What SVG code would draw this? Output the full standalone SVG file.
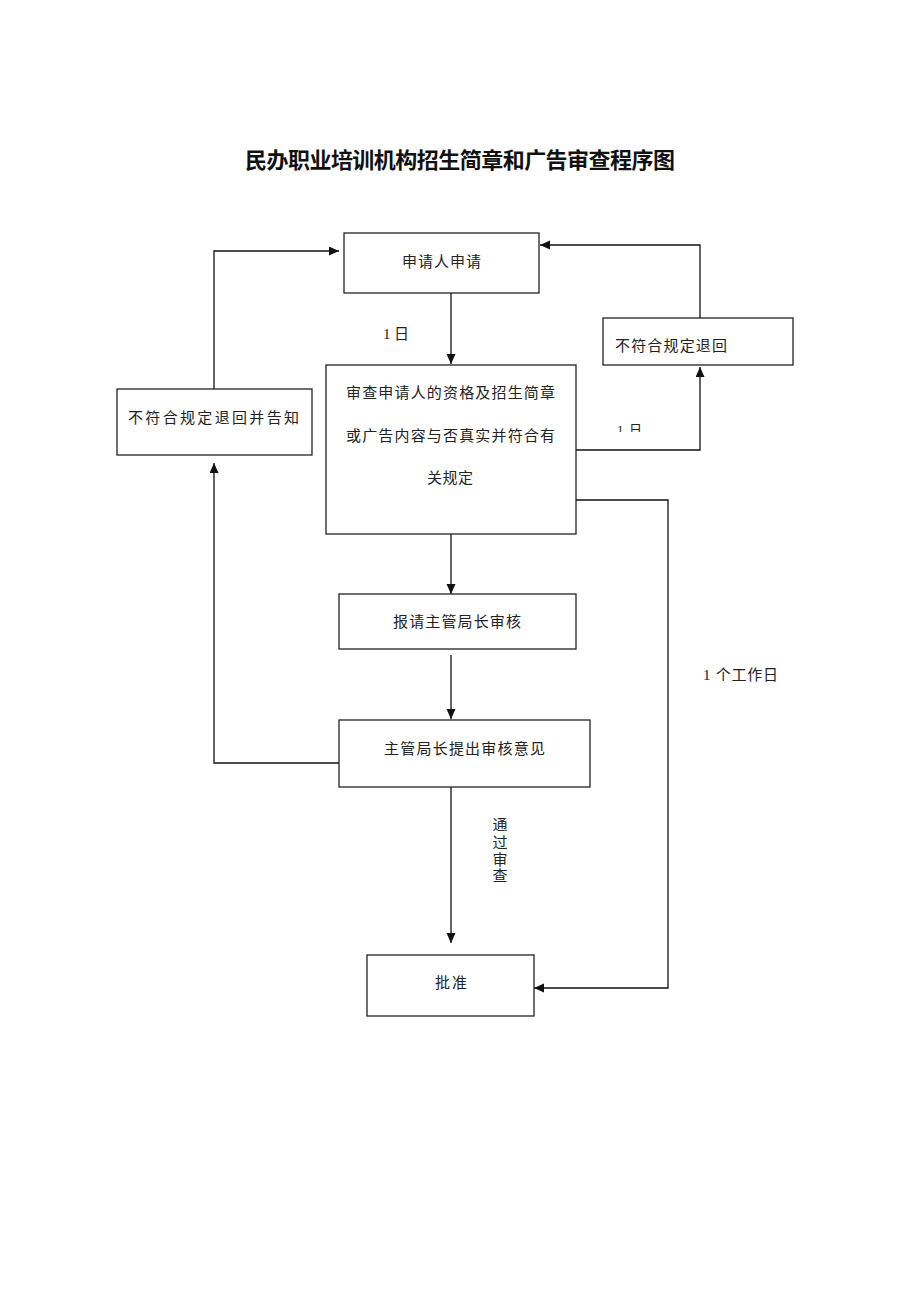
<svg xmlns="http://www.w3.org/2000/svg" width="920" height="1302" viewBox="0 0 920 1302">
<style>
.box{fill:#fff;stroke:#222;stroke-width:1.3}
.ln{fill:none;stroke:#111;stroke-width:1.3}
.t{font-family:"Liberation Serif","Noto Sans CJK SC",serif;font-size:15px;fill:#222}
.c{text-anchor:middle}
.title{font-family:"Noto Sans CJK SC",sans-serif;font-size:22px;font-weight:bold;fill:#111;text-anchor:middle}
</style>
<defs>
<marker id="ah" markerUnits="userSpaceOnUse" markerWidth="10" markerHeight="10" refX="10" refY="4.5" orient="auto">
<path d="M0,0 L10,4.5 L0,9 z" fill="#111"/>
</marker>
<clipPath id="clipSmall"><rect x="600" y="415" width="60" height="17"/></clipPath>
</defs>
<rect width="920" height="1302" fill="#fff"/>
<text class="title" x="460" y="168" textLength="430" lengthAdjust="spacing">民办职业培训机构招生简章和广告审查程序图</text>

<g id="connectors">
<polyline class="ln" points="214,389 214,251 339,251" marker-end="url(#ah)"/>
<polyline class="ln" points="451,293 451,364" marker-end="url(#ah)"/>
<polyline class="ln" points="700,318 700,245 540,245" marker-end="url(#ah)"/>
<polyline class="ln" points="576,450 700,450 700,367" marker-end="url(#ah)"/>
<polyline class="ln" points="571,500 668,500 668,988 534,988" marker-end="url(#ah)"/>
<polyline class="ln" points="451,534 451,594" marker-end="url(#ah)"/>
<polyline class="ln" points="451,655 451,719" marker-end="url(#ah)"/>
<polyline class="ln" points="339,763 214,763 214,463" marker-end="url(#ah)"/>
<polyline class="ln" points="451,787 451,943" marker-end="url(#ah)"/>
<text class="t" x="383" y="339" textLength="26" lengthAdjust="spacing">1 日</text>
<g clip-path="url(#clipSmall)"><text class="t" x="617" y="434" style="font-size:13px" textLength="25" lengthAdjust="spacing">1 日</text></g>
<text class="t" x="703" y="680" textLength="75" lengthAdjust="spacing">1 个工作日</text>
<text class="t c" x="500" y="830">通</text>
<text class="t c" x="500" y="848">过</text>
<text class="t c" x="500" y="865">审</text>
<text class="t c" x="500" y="881">查</text>
</g>

<g id="n1">
<rect class="box" x="344" y="233" width="195" height="60"/>
<text class="t" x="402" y="267" textLength="79" lengthAdjust="spacing">申请人申请</text>
</g>
<g id="n2">
<rect class="box" x="603" y="318" width="190" height="47"/>
<text class="t" x="615" y="351" textLength="112" lengthAdjust="spacing">不符合规定退回</text>
</g>
<g id="n3">
<rect class="box" x="326" y="365" width="250" height="169"/>
<text class="t" x="346" y="398" textLength="209" lengthAdjust="spacing">审查申请人的资格及招生简章</text>
<text class="t" x="346" y="441" textLength="209" lengthAdjust="spacing">或广告内容与否真实并符合有</text>
<text class="t" x="427" y="483" textLength="46" lengthAdjust="spacing">关规定</text>
</g>
<g id="n4">
<rect class="box" x="117" y="389" width="195" height="66"/>
<text class="t" x="128" y="423" textLength="171" lengthAdjust="spacing">不符合规定退回并告知</text>
</g>
<g id="n5">
<rect class="box" x="339" y="594" width="237" height="55"/>
<text class="t" x="393" y="627" textLength="128" lengthAdjust="spacing">报请主管局长审核</text>
</g>
<g id="n6">
<rect class="box" x="339" y="720" width="251" height="67"/>
<text class="t" x="384" y="754" textLength="161" lengthAdjust="spacing">主管局长提出审核意见</text>
</g>
<g id="n7">
<rect class="box" x="367" y="955" width="167" height="61"/>
<text class="t" x="435" y="988" textLength="32" lengthAdjust="spacing">批准</text>
</g>
</svg>
